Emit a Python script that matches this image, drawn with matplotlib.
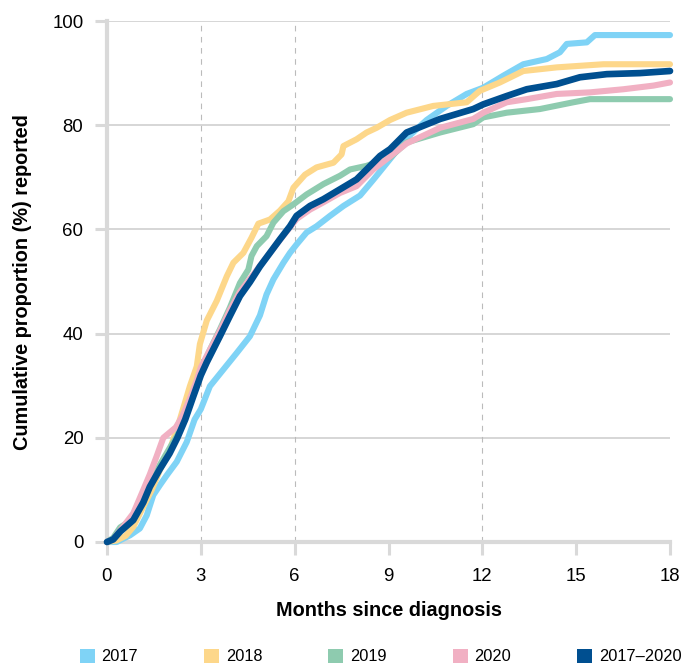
import matplotlib
matplotlib.use("Agg")
import matplotlib.pyplot as plt
from matplotlib.patches import Patch

plt.rcParams['font.family'] = ['Liberation Sans', 'DejaVu Sans']

# ---- data (months since diagnosis, cumulative % reported) ----
m_2017 = [0, 0.31, 0.74, 1.05, 1.27, 1.48, 1.69, 1.91, 2.23, 2.55, 2.8, 3.0, 3.29, 3.72, 4.15, 4.57,
          4.89, 5.1, 5.32, 5.64, 5.85, 6.06, 6.38, 6.7, 7.13, 7.56, 8.09, 8.51, 9.05, 9.58, 10.22,
          10.86, 11.5, 12.03, 12.67, 13.31, 14.06, 14.48, 14.7, 15.34, 15.6, 18]
p_2017 = [0, 0, 1.3, 2.6, 5.1, 9.0, 10.9, 12.8, 15.4, 19.2, 23.5, 25.5, 29.9, 33.1, 36.3, 39.5,
          43.5, 47.5, 50.4, 53.6, 55.5, 57.1, 59.4, 60.6, 62.6, 64.5, 66.5, 69.5, 73.5, 77.5, 81.0,
          83.7, 86.0, 87.2, 89.5, 91.7, 92.7, 94.0, 95.6, 95.9, 97.3, 97.3]

m_2018 = [0, 0.3, 0.6, 0.84, 1.16, 1.43, 1.69, 2.01, 2.33, 2.65, 2.87, 2.97, 3.19, 3.51, 3.83, 4.04,
          4.36, 4.62, 4.84, 5.21, 5.53, 5.8, 5.96, 6.33, 6.7, 7.24, 7.5, 7.56, 7.98, 8.3, 8.62, 9.05,
          9.58, 10.43, 11.5, 11.92, 12.56, 13.31, 14.38, 15.87, 18]
p_2018 = [0, 0.3, 1.2, 2.9, 6.8, 10.0, 13.8, 17.7, 23.5, 29.9, 33.7, 38.0, 42.5, 46.3, 51.0, 53.6,
          55.5, 58.4, 61.1, 61.9, 63.6, 65.4, 68.0, 70.5, 71.9, 72.8, 74.4, 76.0, 77.3, 78.6, 79.5, 81.0,
          82.4, 83.7, 84.4, 86.6, 88.2, 90.4, 91.1, 91.7, 91.7]

m_2019 = [0, 0.2, 0.42, 0.6, 0.84, 1.16, 1.37, 1.69, 2.0, 2.25, 2.5, 2.75, 3.0, 3.3, 3.61, 3.93,
          4.25, 4.52, 4.62, 4.79, 5.1, 5.32, 5.64, 5.96, 6.38, 6.92, 7.45, 7.77, 8.3, 9.05, 9.58,
          10.65, 11.71, 12.03, 12.78, 13.84, 14.91, 15.44, 18]
p_2019 = [0, 0.8, 2.8, 3.5, 4.6, 8.2, 11.0, 14.8, 18.0, 20.5, 24.0, 28.5, 33.0, 37.0, 40.8, 45.0,
          49.7, 52.3, 54.9, 56.8, 58.7, 61.3, 63.5, 64.8, 66.7, 68.7, 70.3, 71.5, 72.2, 73.8, 76.7,
          78.6, 80.2, 81.5, 82.4, 83.1, 84.4, 85.0, 85.0]

m_2020 = [0, 0.2, 0.42, 0.84, 1.16, 1.37, 1.59, 1.8, 2.0, 2.2, 2.4, 2.65, 2.87, 3.0, 3.3, 3.61,
          3.93, 4.25, 4.57, 4.89, 5.21, 5.53, 5.85, 6.06, 6.49, 6.92, 7.45, 7.98, 8.51, 9.05, 9.58,
          10.65, 11.71, 12.03, 12.78, 13.42, 14.38, 15.44, 16.51, 17.47, 18]
p_2020 = [0, 0.5, 2.2, 5.5, 10.0, 13.0, 16.5, 20.0, 21.0, 22.0, 24.0, 27.5, 31.0, 33.5, 37.0, 40.5,
          44.5, 48.0, 50.5, 53.0, 55.5, 58.0, 60.4, 62.0, 63.8, 65.2, 67.0, 68.3, 71.5, 74.0, 76.5,
          79.5, 81.2, 82.4, 84.4, 85.0, 86.0, 86.3, 86.9, 87.6, 88.2]

m_all = [0, 0.2, 0.42, 0.84, 1.16, 1.37, 1.69, 2.0, 2.25, 2.5, 2.75, 3.0, 3.19, 3.61, 3.93, 4.25,
         4.57, 4.89, 5.21, 5.53, 5.85, 6.06, 6.49, 6.92, 7.45, 7.98, 8.3, 8.73, 9.05, 9.58, 10.65,
         11.71, 12.03, 12.78, 13.42, 14.38, 15.12, 15.98, 17.04, 18]
p_all = [0, 0.5, 2.0, 4.2, 7.6, 10.6, 14.0, 17.0, 20.0, 23.5, 27.8, 32.0, 34.5, 39.5, 43.4, 47.2,
         49.9, 52.9, 55.5, 58.1, 60.6, 62.6, 64.5, 65.8, 67.7, 69.6, 71.5, 74.1, 75.4, 78.6, 81.2,
         83.1, 84.0, 85.6, 86.9, 87.9, 89.2, 89.8, 90.0, 90.4]

labels = ['2017', '2018', '2019', '2020', '2017\u20132020']
colors = ['#7fd3f6', '#fdd78a', '#8ecbaf', '#f1b0c3', '#004f90']
xticks = [0, 3, 6, 9, 12, 15, 18]
yticks = [0, 20, 40, 60, 80, 100]
vlines = [3, 6, 12]

series = [(m_2017, p_2017), (m_2018, p_2018), (m_2019, p_2019), (m_2020, p_2020), (m_all, p_all)]

fig = plt.figure(figsize=(6.85, 6.68), dpi=100)
ax = fig.add_axes([107/685, 1 - 542/668, 563/685, 521/668])

ax.set_xlim(0, 18)
ax.set_ylim(0, 100)

for y in yticks[1:]:
    ax.axhline(y, color='#cccccc', lw=1.1, zorder=1)
for x in vlines:
    ax.axvline(x, color='#bbbbbb', lw=0.8, ls=(0, (5, 5)), zorder=1)

for i, ((mx, py), c) in enumerate(zip(series, colors)):
    lw = 4.8 if i == 4 else 4.4
    ax.plot(mx, py, color=c, lw=lw, solid_capstyle='round', solid_joinstyle='round',
            zorder=3 + i, clip_on=False)

for s in ['top', 'right']:
    ax.spines[s].set_visible(False)
for s in ['left', 'bottom']:
    ax.spines[s].set_color('#d9d9d9')
    ax.spines[s].set_linewidth(3)
    ax.spines[s].set_zorder(2)

ax.set_xticks(xticks)
ax.set_yticks(yticks)
ax.tick_params(axis='both', colors='#d9d9d9', width=2.2, length=9, labelcolor='black',
               labelsize=13.4)
ax.tick_params(axis='x', pad=10)
ax.tick_params(axis='y', pad=8)

fig.text(389/685, 1 - 611/668, 'Months since diagnosis', fontsize=14.3, fontweight='bold',
         ha='center', va='center')
fig.text(23/685, 1 - 282/668, 'Cumulative proportion (%) reported', fontsize=14.3,
         fontweight='bold', rotation=90, ha='center', va='center')

handles = [Patch(facecolor=c, edgecolor='none') for c in colors]
fig.legend(handles, labels, loc='center left', bbox_to_anchor=(79.5/685, 1 - 656.5/668),
           ncol=5, frameon=False, fontsize=11.8, handlelength=0.92, handleheight=0.92,
           handletextpad=0.42, columnspacing=4.02, borderpad=0, borderaxespad=0)

fig.savefig('out.png', dpi=100)
